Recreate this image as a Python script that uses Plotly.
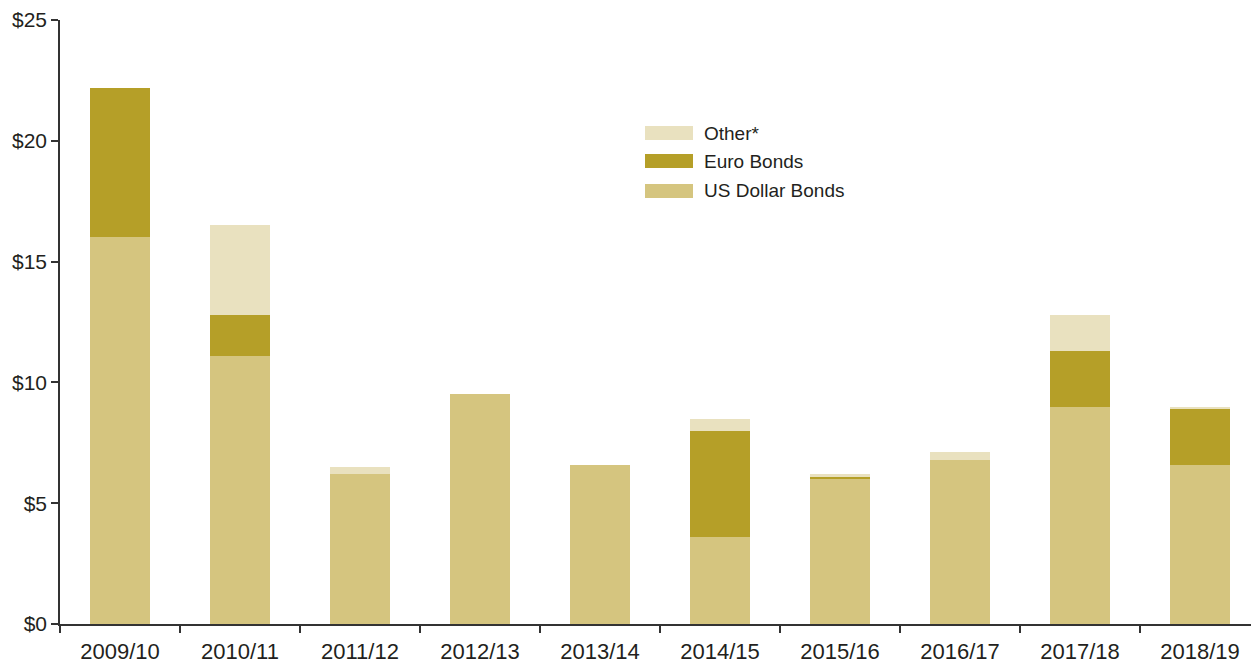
import plotly.graph_objects as go

categories = ["2009/10", "2010/11", "2011/12", "2012/13", "2013/14",
              "2014/15", "2015/16", "2016/17", "2017/18", "2018/19"]
us_dollar_bonds = [16.0, 11.1, 6.2, 9.5, 6.6, 3.6, 6.0, 6.8, 9.0, 6.6]
euro_bonds = [6.2, 1.7, 0.0, 0.0, 0.0, 4.4, 0.1, 0.0, 2.3, 2.3]
other = [0.0, 3.7, 0.3, 0.0, 0.0, 0.5, 0.1, 0.3, 1.5, 0.1]
y_ticks = [0, 5, 10, 15, 20, 25]
y_tick_labels = ["$" + str(v) for v in y_ticks]

series_names = ["US Dollar Bonds", "Euro Bonds", "Other*"]
colors = ["#d5c57f", "#b59f28", "#e9e1bf"]

W, H = 1251, 665
ML, MR, MT, MB = 60, 0, 20, 41
FONT = "Liberation Sans, Arial, sans-serif"
TXT = "#231f20"

fig = go.Figure()
for name, vals, col in zip(series_names, [us_dollar_bonds, euro_bonds, other], colors):
    fig.add_trace(go.Bar(x=categories, y=vals, name=name, marker=dict(color=col, line=dict(width=0)),
                         width=0.5, showlegend=False))

# custom legend (layout decoration) in paper coordinates
pw, ph = W - ML - MR, H - MT - MB
def px_x(p):
    return (p - ML) / pw
def px_y(p):
    return (H - MB - p) / ph

legend_items = [("Other*", colors[2], 133), ("Euro Bonds", colors[1], 161), ("US Dollar Bonds", colors[0], 191)]
shapes = []
annotations = []
for label, col, cy in legend_items:
    shapes.append(dict(type="rect", xref="paper", yref="paper",
                       x0=px_x(645), x1=px_x(693), y0=px_y(cy + 7), y1=px_y(cy - 7),
                       fillcolor=col, line=dict(width=0)))
    annotations.append(dict(xref="paper", yref="paper", x=px_x(702), y=px_y(cy),
                            xanchor="left", yanchor="middle", text=label, showarrow=False,
                            font=dict(family=FONT, size=19, color=TXT)))

fig.update_layout(
    width=W, height=H,
    margin=dict(l=ML, r=MR, t=MT, b=MB, pad=0),
    barmode="stack", bargap=0.5,
    plot_bgcolor="white", paper_bgcolor="white",
    font=dict(family=FONT, size=20, color=TXT),
    shapes=shapes, annotations=annotations,
    showlegend=False,
    xaxis=dict(type="category", range=[-0.5, -0.5 + pw / 120.0], showgrid=False,
               showline=True, linecolor="#333333", linewidth=1.5,
               ticks="outside", tickson="boundaries", ticklen=7, tickcolor="#333333", tickwidth=1.5,
               tickfont=dict(family=FONT, size=22, color=TXT), ticklabelstandoff=7),
    yaxis=dict(range=[0, 25], tickvals=y_ticks, ticktext=y_tick_labels, showgrid=False, zeroline=False,
               showline=True, linecolor="#333333", linewidth=1.5,
               ticks="outside", ticklen=7, tickcolor="#333333", tickwidth=1.5,
               tickfont=dict(family=FONT, size=21, color=TXT)),
)

fig.write_html("out.html")
